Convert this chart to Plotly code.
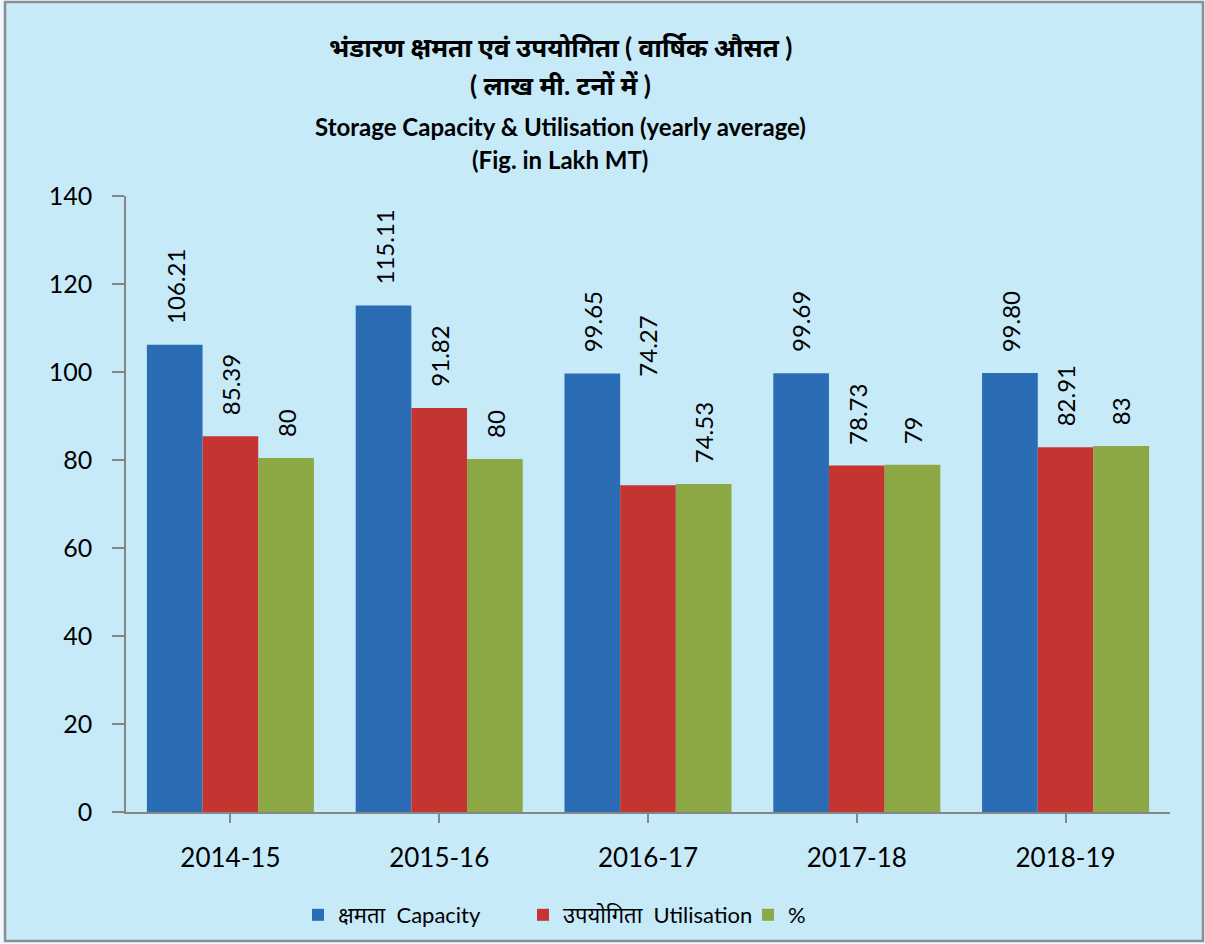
import plotly.graph_objects as go

years = ["2014-15", "2015-16", "2016-17", "2017-18", "2018-19"]
capacity = [106.21, 115.11, 99.65, 99.69, 99.80]
utilisation = [85.39, 91.82, 74.27, 78.73, 82.91]
percent = [80.45, 80.2, 74.53, 78.9, 83.2]

capacity_labels = ["106.21", "115.11", "99.65", "99.69", "99.80"]
utilisation_labels = ["85.39", "91.82", "74.27", "78.73", "82.91"]
percent_labels = ["80", "80", "74.53", "79", "83"]

series_names = ["क्षमता  Capacity", "उपयोगिता  Utilisation", "%"]
colors = ["#2A6DB5", "#C43431", "#8BA845"]

title_lines = [
    "भंडारण क्षमता एवं उपयोगिता ( वार्षिक औसत )",
    "( लाख मी. टनों में )",
    "Storage Capacity & Utilisation (yearly average)",
    "(Fig. in Lakh MT)",
]

W, H = 1205, 944
ML, MR, MT, MB = 126, 35, 196, 132
PW, PH = W - ML - MR, H - MT - MB
BARGAP = 0.2
FONT = "Lato, 'Noto Sans', sans-serif"

xs = list(range(len(years)))
all_vals = [capacity, utilisation, percent]
all_labels = [capacity_labels, utilisation_labels, percent_labels]

fig = go.Figure()
for name, vals, col in zip(series_names, all_vals, colors):
    fig.add_trace(go.Bar(x=xs, y=vals, name=name, marker=dict(color=col, line=dict(width=0))))

# data labels (rotated), anchored on each bar top
bw = (1 - BARGAP) / 3
annotations = []
for j, (vals, labs) in enumerate(zip(all_vals, all_labels)):
    for i, (v, t) in enumerate(zip(vals, labs)):
        lift = 19
        if j == 1 and i == 2:
            lift = 106
        annotations.append(dict(
            x=xs[i] + (j - 1) * bw, y=v, xref="x", yref="y", text=t,
            showarrow=False, textangle=-90, xanchor="center", yanchor="bottom",
            yshift=lift, font=dict(family=FONT, size=24, color="#000000")))

# title lines
title_px = [47, 85, 127, 160]
title_sizes = [26, 26, 24, 24]
for txt, py, sz in zip(title_lines, title_px, title_sizes):
    annotations.append(dict(
        x=(560 - ML) / PW, y=(H - MB - py) / PH, xref="paper", yref="paper",
        text="<b>" + txt + "</b>", showarrow=False, xanchor="center", yanchor="middle",
        font=dict(family=FONT, size=sz, color="#000000")))

# outer frame
shapes = [dict(
    type="rect", xref="paper", yref="paper", layer="below",
    x0=(5 - ML) / PW, x1=(1203 - ML) / PW,
    y0=(H - MB - 941) / PH, y1=(H - MB - 2) / PH,
    fillcolor="#C7EAF9", line=dict(color="#8A8F94", width=2.5))]

fig.update_layout(
    width=W, height=H,
    margin=dict(l=ML, r=MR, t=MT, b=MB, autoexpand=False),
    paper_bgcolor="#EEF8FD", plot_bgcolor="rgba(0,0,0,0)",
    barmode="group", bargap=BARGAP, bargroupgap=0,
    font=dict(family=FONT, size=24, color="#000000"),
    showlegend=True,
    legend=dict(orientation="h", x=(298 - ML) / PW, xanchor="left",
                y=(H - MB - 915) / PH, yanchor="middle",
                font=dict(family=FONT, size=22), entrywidth=180, entrywidthmode="pixels",
                bgcolor="rgba(0,0,0,0)", itemsizing="constant"),
    xaxis=dict(range=[-0.5, len(years) - 0.5], tickvals=xs, ticktext=years,
               showline=True, linecolor="#868686", linewidth=1.5,
               ticks="outside", ticklen=9, tickcolor="#868686", tickwidth=1.5,
               showgrid=False, zeroline=False, ticklabelstandoff=13,
               tickfont=dict(family=FONT, size=26)),
    yaxis=dict(range=[0, 140], dtick=20, showline=True, linecolor="#868686", linewidth=1.5,
               ticks="outside", ticklen=12, tickcolor="#868686", tickwidth=1.5,
               showgrid=False, zeroline=False, ticklabelstandoff=15,
               tickfont=dict(family=FONT, size=25)),
    annotations=annotations, shapes=shapes,
)

fig.write_html("out.html", config={"displayModeBar": False},
               post_script="document.body.style.margin='0';")
